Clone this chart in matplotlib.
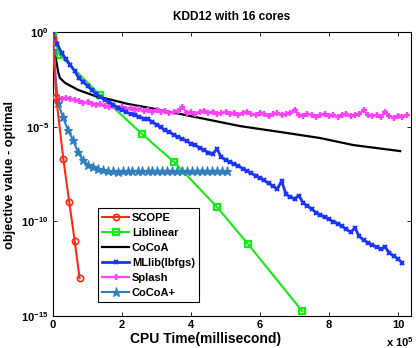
import numpy as np
import matplotlib
matplotlib.use('Agg')
import matplotlib.pyplot as plt
from matplotlib.ticker import FixedLocator, FuncFormatter, NullLocator

plt.rcParams['font.family'] = ['Liberation Sans', 'DejaVu Sans']
plt.rcParams['font.weight'] = 'bold'
plt.rcParams['mathtext.fontset'] = 'custom'
plt.rcParams['mathtext.rm'] = 'Liberation Sans:bold'
plt.rcParams['mathtext.bf'] = 'Liberation Sans:bold'
plt.rcParams['mathtext.it'] = 'Liberation Sans:bold'

# ---- data (time in units of 1e5 ms, gap as log10 value) ----
scope_t = [0, 0.09, 0.30, 0.47, 0.63, 0.77]
scope_lg = [-0.30, -3.43, -6.71, -8.98, -11.04, -13.00]

lib_t = [0, 0.20, 1.36, 2.58, 3.51, 4.75, 5.65, 7.22]
lib_lg = [-0.21, -1.22, -3.33, -5.39, -6.87, -9.24, -11.20, -14.74]

cocoa_t = [0, 0.09, 0.15, 0.20, 0.35, 0.73, 1.22, 1.71, 2.17, 2.81,
           4.26, 5.42, 6.58, 7.74, 8.70, 10.06]
cocoa_lg = [-0.95, -1.48, -2.11, -2.43, -2.69, -3.06, -3.38, -3.59, -3.80,
            -4.01, -4.54, -4.97, -5.28, -5.60, -5.97, -6.29]

grid_t = [0, 0.125, 0.25, 0.375, 0.5, 0.625, 0.75, 0.875, 1.0, 1.125,
          1.25, 1.375, 1.5, 1.625, 1.75, 1.875, 2.0, 2.125, 2.25, 2.375,
          2.5, 2.625, 2.75, 2.875, 3.0, 3.125, 3.25, 3.375, 3.5, 3.625,
          3.75, 3.875, 4.0, 4.125, 4.25, 4.375, 4.5, 4.625, 4.75, 4.875,
          5.0, 5.125, 5.25, 5.375, 5.5, 5.625, 5.75, 5.875, 6.0, 6.125,
          6.25, 6.375, 6.5, 6.625, 6.75, 6.875, 7.0, 7.125, 7.25, 7.375,
          7.5, 7.625, 7.75, 7.875, 8.0, 8.125, 8.25, 8.375, 8.5, 8.625,
          8.75, 8.875, 9.0, 9.125, 9.25, 9.375, 9.5, 9.625, 9.75, 9.875,
          10.0, 10.125, 10.25]

mllib_lg = [-0.02, -0.63, -1.11, -1.43, -1.74, -2.06, -2.43, -2.64, -2.85, -3.06,
            -3.28, -3.43, -3.59, -3.70, -3.83, -4.01, -4.12, -4.23, -4.33, -4.38,
            -4.49, -4.57, -4.62, -4.73, -4.91, -5.04, -5.20, -5.28, -5.44, -5.55,
            -5.65, -5.76, -5.89, -5.97, -6.13, -6.23, -6.37, -6.44, -6.18, -6.60,
            -6.76, -6.87, -6.97, -7.08, -7.21, -7.34, -7.47, -7.58, -7.71, -7.84,
            -8.00, -8.14, -8.29, -7.87, -8.56, -8.72, -8.80, -8.64, -9.03, -9.19,
            -9.35, -9.54, -9.67, -9.77, -9.90, -10.01, -10.12, -10.25, -10.43, -10.57,
            -10.35, -10.80, -10.99, -11.12, -11.25, -11.36, -11.46, -11.36, -11.67, -11.83,
            -11.99, -12.20]

splash_lg = [-0.32, -3.65, -3.54, -3.49, -3.54, -3.59, -3.65, -3.75, -3.70, -3.80,
             -3.86, -3.80, -3.91, -3.96, -3.91, -4.01, -3.96, -4.07, -4.01, -4.12,
             -4.07, -4.17, -4.12, -4.23, -4.12, -4.23, -4.17, -4.28, -4.23, -4.17,
             -3.96, -4.28, -4.23, -4.33, -4.23, -4.17, -4.28, -4.23, -4.33, -4.28,
             -4.23, -4.33, -4.28, -4.38, -4.28, -4.23, -4.33, -4.38, -4.28, -4.33,
             -4.44, -4.33, -4.28, -4.38, -4.33, -4.28, -4.12, -4.38, -4.44, -4.33,
             -4.38, -4.49, -4.38, -4.33, -4.44, -4.38, -4.49, -4.38, -4.33, -4.44,
             -4.38, -4.33, -4.12, -4.38, -4.44, -4.38, -4.49, -4.23, -4.44, -4.54,
             -4.44, -4.49, -4.38]

cocoap_t = [0, 0.14, 0.29, 0.43, 0.58, 0.72, 0.86, 1.01, 1.15, 1.30,
            1.44, 1.58, 1.73, 1.87, 2.02, 2.16, 2.30, 2.45, 2.59, 2.74,
            2.88, 3.02, 3.17, 3.31, 3.46, 3.60, 3.74, 3.89, 4.03, 4.18,
            4.32, 4.46, 4.61, 4.75, 4.90, 5.04]
cocoap_lg = [-0.95, -3.75, -4.49, -5.18, -5.71, -6.34, -6.76, -7.03, -7.15, -7.24,
             -7.29, -7.33, -7.36, -7.37, -7.36, -7.35, -7.34, -7.34, -7.35, -7.34,
             -7.33, -7.34, -7.34, -7.33, -7.34, -7.35, -7.34, -7.33, -7.34, -7.34,
             -7.33, -7.34, -7.34, -7.33, -7.34, -7.34]

labels = ['SCOPE', 'Liblinear', 'CoCoA', 'MLlib(lbfgs)', 'Splash', 'CoCoA+']
xticks = [0, 2, 4, 6, 8, 10]
yticks_exp = [0, -5, -10, -15]

SCALE = 1e5

fig = plt.figure(figsize=(4.16, 3.48), dpi=100)
ax = fig.add_axes([53 / 416, 1 - 316 / 348, 357.5 / 416, 284 / 348])

def T(v):
    return np.asarray(v) * SCALE

def G(v):
    return 10.0 ** np.asarray(v)

ax.plot(T(scope_t), G(scope_lg), color='#ff2a10', lw=1.5, marker='o',
        ms=4.5, mfc='none', mew=1.2, label=labels[0], zorder=6)
ax.plot(T(lib_t), G(lib_lg), color='#11ee11', lw=1.5, marker='s',
        ms=5, mfc='none', mew=1.6, label=labels[1], zorder=3)
ax.plot(T(cocoa_t), G(cocoa_lg), color='black', lw=1.6, label=labels[2], zorder=4)
ax.plot(T(grid_t[:len(mllib_lg)]), G(mllib_lg), color='#1a35ff', lw=2.0,
        marker='x', ms=3, mew=1.5, label=labels[3], zorder=5)
ax.plot(T(grid_t[:len(splash_lg)]), G(splash_lg), color='#ff40ff', lw=1.6,
        marker='+', ms=5, mew=1.7, label=labels[4], zorder=4)
ax.plot(T(cocoap_t), G(cocoap_lg), color='#2f7ec2', lw=1.5, marker='*',
        ms=6.5, mew=0.8, label=labels[5], zorder=5)

ax.set_yscale('log')
ax.set_xlim(0, 10.36 * SCALE)
ax.set_ylim(1e-15, 1e0)

ax.xaxis.set_major_locator(FixedLocator([t * SCALE for t in xticks]))
ax.xaxis.set_major_formatter(FuncFormatter(lambda v, p: '%d' % round(v / SCALE)))
ax.yaxis.set_major_locator(FixedLocator([10.0 ** e for e in yticks_exp]))
ax.yaxis.set_minor_locator(NullLocator())
ax.yaxis.set_major_formatter(FuncFormatter(
    lambda v, p: r'$10^{%d}$' % round(np.log10(v))))
ax.tick_params(direction='in', top=True, right=True, labelsize=8,
               length=3, width=0.6, pad=3)
for s in ax.spines.values():
    s.set_linewidth(0.8)
    s.set_color('black')

fig.text(232 / 416, 1 - 17 / 348, 'KDD12 with 16 cores', ha='center',
         va='center', fontsize=8.6, fontweight='bold')
fig.text(206 / 416, 1 - 339 / 348, 'CPU Time(millisecond)', ha='center',
         va='center', fontsize=10, fontweight='bold')
fig.text(10 / 416, 1 - 175 / 348, 'objective value - optimal', ha='center',
         va='center', rotation=90, fontsize=9.2, fontweight='bold')
fig.text(414 / 416, 1 - 342 / 348, r'x 10$^5$', ha='right', va='center',
         fontsize=8, fontweight='bold')

leg = ax.legend(loc='lower left', bbox_to_anchor=((98 - 53) / 357.5, (316 - 302) / 284),
                borderaxespad=0, fontsize=8, handlelength=2.4,
                handletextpad=0.25, labelspacing=0.45, borderpad=0.4,
                fancybox=False, framealpha=1, edgecolor='black', numpoints=1)
leg.get_frame().set_linewidth(0.8)

fig.savefig('out.png', dpi=100)
